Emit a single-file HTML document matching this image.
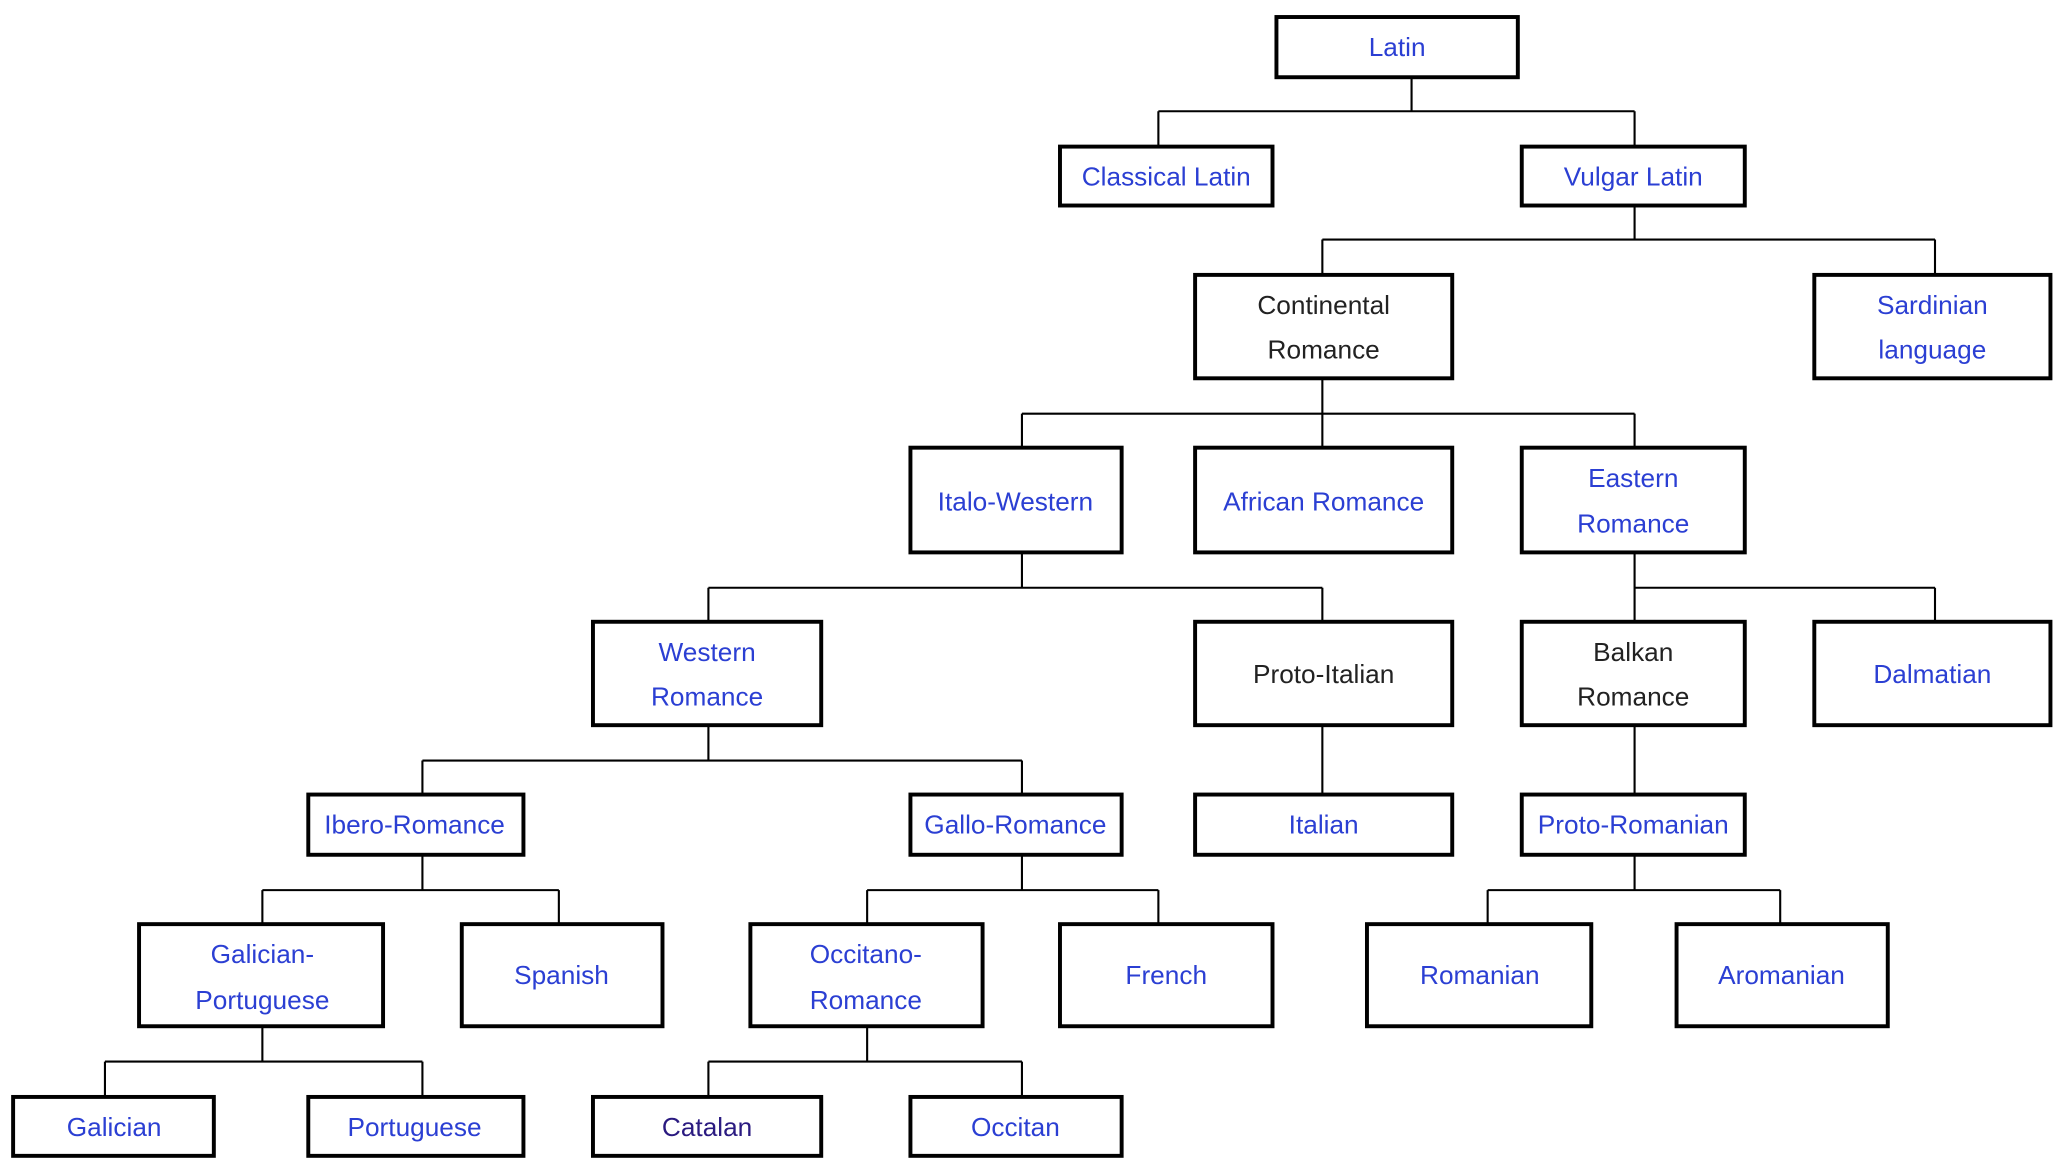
<!DOCTYPE html>
<html><head><meta charset="utf-8"><style>
html,body{margin:0;padding:0;background:#fff;width:2057px;height:1165px;overflow:hidden}
svg{display:block}
text{font-family:"Liberation Sans",sans-serif;font-size:20px;text-anchor:middle;dominant-baseline:central;fill:#2b3fd3}
.k{fill:#222}
.p{fill:#2a1a80}
rect{fill:#fff;stroke:#000;stroke-width:3}
path{fill:none;stroke:#000;stroke-width:1.6}
</style></head><body>
<svg width="2057" height="1165" viewBox="0 0 1568 890" preserveAspectRatio="none">
<path d="M1076 59V85M883 85H1246M883 85V112M1246 85V112
M1246 157V183M1008 183H1475M1008 183V210M1475 183V210
M1008 289V316M779 316H1246M779 316V342M1008 316V342M1246 316V342
M779 422V449M540 449H1008M540 449V475M1008 449V475
M1246 422V449M1246 449H1475M1246 449V475M1475 449V475
M540 554V581M322 581H779M322 581V607M779 581V607
M1008 554V607M1246 554V607
M322 653V680M200 680H426M200 680V706M426 680V706
M779 653V680M661 680H883M661 680V706M883 680V706
M1246 653V680M1134 680H1357M1134 680V706M1357 680V706
M200 784V811M80 811H322M80 811V838M322 811V838
M661 784V811M540 811H779M540 811V838M779 811V838"/>
<rect x="973" y="13" width="184" height="46"/><text x="1065" y="36">Latin</text>
<rect x="808" y="112" width="162" height="45"/><text x="889" y="135">Classical Latin</text>
<rect x="1160" y="112" width="170" height="45"/><text x="1245" y="135">Vulgar Latin</text>
<rect x="911" y="210" width="196" height="79"/><text class="k" x="1009" y="233">Continental</text><text class="k" x="1009" y="267">Romance</text>
<rect x="1383" y="210" width="180" height="79"/><text x="1473" y="233">Sardinian</text><text x="1473" y="267">language</text>
<rect x="694" y="342" width="161" height="80"/><text x="774" y="383">Italo-Western</text>
<rect x="911" y="342" width="196" height="80"/><text x="1009" y="383">African Romance</text>
<rect x="1160" y="342" width="170" height="80"/><text x="1245" y="365">Eastern</text><text x="1245" y="400">Romance</text>
<rect x="452" y="475" width="174" height="79"/><text x="539" y="498">Western</text><text x="539" y="532">Romance</text>
<rect x="911" y="475" width="196" height="79"/><text class="k" x="1009" y="515">Proto-Italian</text>
<rect x="1160" y="475" width="170" height="79"/><text class="k" x="1245" y="498">Balkan</text><text class="k" x="1245" y="532">Romance</text>
<rect x="1383" y="475" width="180" height="79"/><text x="1473" y="515">Dalmatian</text>
<rect x="235" y="607" width="164" height="46"/><text x="316" y="630">Ibero-Romance</text>
<rect x="694" y="607" width="161" height="46"/><text x="774" y="630">Gallo-Romance</text>
<rect x="911" y="607" width="196" height="46"/><text x="1009" y="630">Italian</text>
<rect x="1160" y="607" width="170" height="46"/><text x="1245" y="630">Proto-Romanian</text>
<rect x="106" y="706" width="186" height="78"/><text x="200" y="729">Galician-</text><text x="200" y="764">Portuguese</text>
<rect x="352" y="706" width="153" height="78"/><text x="428" y="745">Spanish</text>
<rect x="572" y="706" width="177" height="78"/><text x="660" y="729">Occitano-</text><text x="660" y="764">Romance</text>
<rect x="808" y="706" width="162" height="78"/><text x="889" y="745">French</text>
<rect x="1042" y="706" width="171" height="78"/><text x="1128" y="745">Romanian</text>
<rect x="1278" y="706" width="161" height="78"/><text x="1358" y="745">Aromanian</text>
<rect x="10" y="838" width="153" height="45"/><text x="87" y="861">Galician</text>
<rect x="235" y="838" width="164" height="45"/><text x="316" y="861">Portuguese</text>
<rect x="452" y="838" width="174" height="45"/><text class="p" x="539" y="861">Catalan</text>
<rect x="694" y="838" width="161" height="45"/><text x="774" y="861">Occitan</text>
</svg>
</body></html>
